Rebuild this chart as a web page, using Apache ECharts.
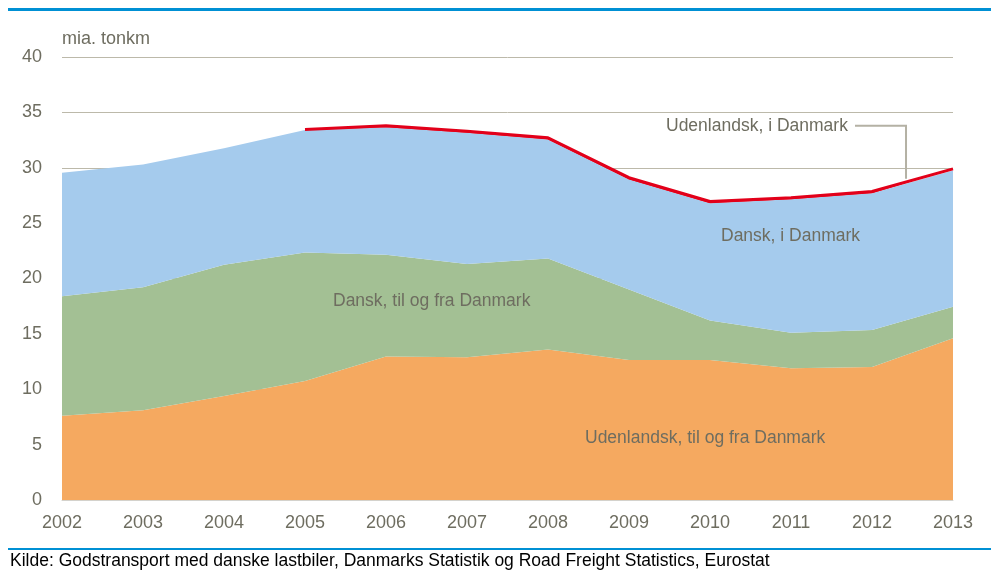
<!DOCTYPE html>
<html>
<head>
<meta charset="utf-8">
<script src="https://cdn.jsdelivr.net/npm/echarts@6/dist/echarts.min.js"></script>
<style>
html,body{margin:0;padding:0;background:#fff;}
#main{width:991px;height:572px;}
</style>
</head>
<body>
<div id="main"></div>
<script>
// data, mia. tonkm
var years = ['2002','2003','2004','2005','2006','2007','2008','2009','2010','2011','2012','2013'];
var udlTilFra = [7.6, 8.1, 9.4, 10.75, 12.95, 12.9, 13.6, 12.65, 12.65, 11.9, 12.0, 14.6];
var dkTilFra  = [10.8, 11.1, 11.85, 11.6, 9.2, 8.4, 8.2, 6.35, 3.55, 3.2, 3.35, 2.85];
var dkIDk     = [11.15, 11.1, 10.5, 11.05, 11.5, 11.85, 10.75, 9.95, 10.6, 12.05, 12.35, 12.3];
var udlIDk    = [null, null, null, 0.05, 0.15, 0.15, 0.15, 0.15, 0.15, 0.15, 0.15, 0.15];
var yTicks = [0, 5, 10, 15, 20, 25, 30, 35, 40];

var font = "'Liberation Sans', Arial, sans-serif";
var grey = '#6e6d60';

function areaSeries(name, data, color) {
	return {
		name: name,
		type: 'line',
		stack: 'tot',
		data: data,
		symbol: 'none',
		lineStyle: {width: 0},
		areaStyle: {color: color, opacity: 1},
		itemStyle: {color: color}
	};
}

var myChart = echarts.init(document.getElementById('main'));
var option = {
	animation: false,
	grid: {left: 62, right: 38, top: 57, bottom: 72},
	xAxis: {
		type: 'category',
		data: years,
		boundaryGap: false,
		axisLine: {lineStyle: {color: '#d4d2cc', width: 1}},
		axisTick: {show: false},
		axisLabel: {color: grey, fontSize: 18, fontFamily: font, margin: 14}
	},
	yAxis: {
		type: 'value',
		min: 0, max: 40, interval: 5,
		axisLine: {show: false},
		axisTick: {show: false},
		splitLine: {lineStyle: {color: '#bcb9aa', width: 1}},
		axisLabel: {color: grey, fontSize: 18, fontFamily: font, margin: 20,
			formatter: function(v){ return yTicks.indexOf(v) >= 0 ? String(v) : ''; }}
	},
	series: [
		areaSeries('Udenlandsk, til og fra Danmark', udlTilFra, '#f5a960'),
		areaSeries('Dansk, til og fra Danmark', dkTilFra, '#a3c094'),
		areaSeries('Dansk, i Danmark', dkIDk, '#a5cbed'),
		{
			name: 'Udenlandsk, i Danmark',
			type: 'line',
			stack: 'tot',
			data: udlIDk,
			symbol: 'none',
			lineStyle: {color: '#e2001a', width: 3},
			areaStyle: {color: '#e2001a', opacity: 1}
		}
	]
};
myChart.setOption(option);

// labels and frame lines
var p12 = myChart.convertToPixel({xAxisIndex: 0, yAxisIndex: 0}, [10, 0]);
var p13 = myChart.convertToPixel({xAxisIndex: 0, yAxisIndex: 0}, [11, 0]);
var ax = p12[0] + 0.42 * (p13[0] - p12[0]);
var ay = myChart.convertToPixel({yAxisIndex: 0}, 29);
var ly = myChart.convertToPixel({yAxisIndex: 0}, 33.8);

var txt = function(text, x, y, size, color) {
	return {type: 'text', left: x, top: y, z: 100, style: {text: text, fill: color, font: size + 'px ' + font}};
};

myChart.setOption({
	graphic: [
		{type: 'rect', z: 100, shape: {x: 8, y: 8, width: 983, height: 3}, style: {fill: '#0090d4'}},
		{type: 'rect', z: 100, shape: {x: 8, y: 548, width: 983, height: 2}, style: {fill: '#0090d4'}},
		txt('mia. tonkm', 62, 30, 18, grey),
		txt('Dansk, til og fra Danmark', 333, 292, 17.5, grey),
		txt('Dansk, i Danmark', 721, 227, 17.5, grey),
		txt('Udenlandsk, til og fra Danmark', 585, 429, 17.5, grey),
		txt('Udenlandsk, i Danmark', 666, 117, 17.5, grey),
		{type: 'polyline', z: 100, shape: {points: [[855, ly], [ax, ly], [ax, ay]]}, style: {stroke: '#b4b1a4', lineWidth: 2, fill: null}},
		txt('Kilde: Godstransport med danske lastbiler, Danmarks Statistik og Road Freight Statistics, Eurostat', 10, 552, 17.5, '#000')
	]
});
</script>
</body>
</html>
